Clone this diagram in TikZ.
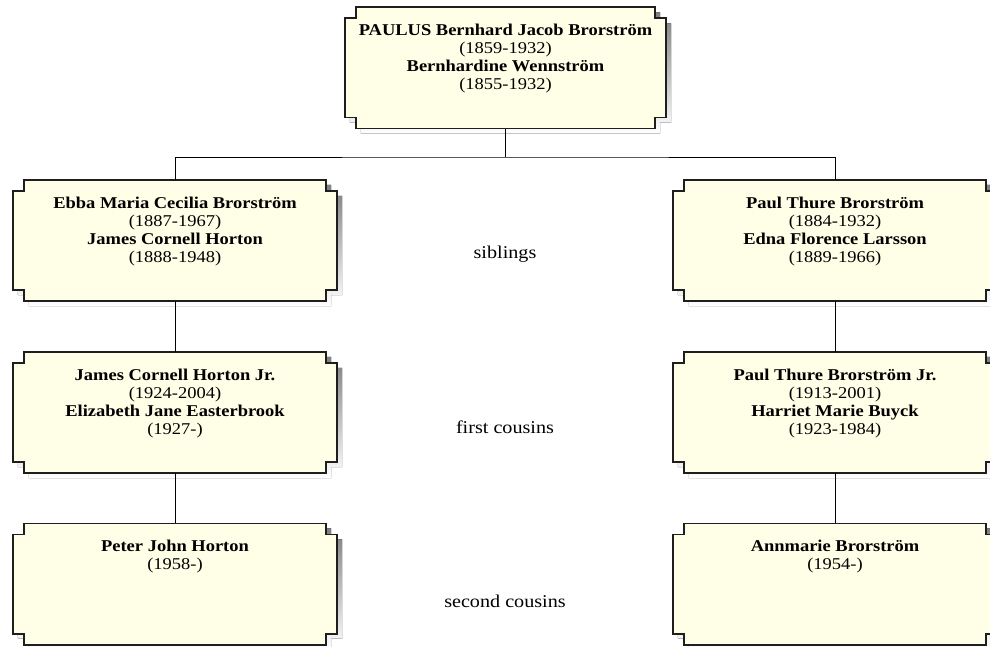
\documentclass[tikz,border=0pt]{standalone}
\usepackage{fontspec}
\setmainfont{Liberation Serif}[FakeStretch=1.12]
\usetikzlibrary{backgrounds}

\definecolor{cream}{RGB}{255,254,230}
\definecolor{shade}{RGB}{125,125,125}
\definecolor{rim}{RGB}{30,30,30}

\def\nd{11pt}
% outline with square notches cut into the four corners
\newcommand\notched[1]{([xshift=\nd]#1.north west) -- ([xshift=-\nd]#1.north east)
  -- ([shift={(-\nd,-\nd)}]#1.north east) -- ([yshift=-\nd]#1.north east)
  -- ([yshift=\nd]#1.south east) -- ([shift={(-\nd,\nd)}]#1.south east)
  -- ([xshift=-\nd]#1.south east) -- ([xshift=\nd]#1.south west)
  -- ([shift={(\nd,\nd)}]#1.south west) -- ([yshift=\nd]#1.south west)
  -- ([yshift=-\nd]#1.north west) -- ([shift={(\nd,-\nd)}]#1.north west) -- cycle}
\newcommand\famcard[2][324pt]{\parbox[c][121pt][t]{#1}{\centering\rule{0pt}{28pt}#2}}

\begin{document}
\begin{tikzpicture}[x=1pt, y=-1pt,
  person/.style={inner sep=0pt, font=\fontsize{16.5}{18}\selectfont},
  rel/.style={font=\fontsize{18}{20}\selectfont}]

\useasboundingbox (0,0) rectangle (990,647);

\node[person] (paulus) at (505.5,68) {\famcard[321pt]{\textbf{PAULUS Bernhard Jacob Brorström}\\(1859-1932)\\\textbf{Bernhardine Wennström}\\(1855-1932)}};

\node[person] (ebba) at (175,240.5) {\famcard{\textbf{Ebba Maria Cecilia Brorström}\\(1887-1967)\\\textbf{James Cornell Horton}\\(1888-1948)}};
\node[person] (paul) at (835,240.5) {\famcard{\textbf{Paul Thure Brorström}\\(1884-1932)\\\textbf{Edna Florence Larsson}\\(1889-1966)}};

\node[person] (james) at (175,412.5) {\famcard{\textbf{James Cornell Horton Jr.}\\(1924-2004)\\\textbf{Elizabeth Jane Easterbrook}\\(1927-)}};
\node[person] (pauljr) at (835,412.5) {\famcard{\textbf{Paul Thure Brorström Jr.}\\(1913-2001)\\\textbf{Harriet Marie Buyck}\\(1923-1984)}};

\node[person] (peter) at (175,584) {\famcard{\textbf{Peter John Horton}\\(1958-)}};
\node[person] (annmarie) at (835,584) {\famcard{\textbf{Annmarie Brorström}\\(1954-)}};

\node[rel] (siblings) at (505,254) {siblings};
\node[rel] (cousinsA) at (505,427) {first cousins};
\node[rel] (cousinsB) at (505,601) {second cousins};

\coordinate (bus) at (505.5,157);
\draw (paulus) -- (bus);
\draw (ebba.north) |- (bus) -| (paul.north);
\draw (ebba) -- (james);
\draw (james) -- (peter);
\draw (paul) -- (pauljr);
\draw (pauljr) -- (annmarie);

\begin{scope}[on background layer]
\foreach \n in {paulus,ebba,paul,james,pauljr,peter,annmarie} {
  \fill[shade, transform canvas={shift={(5pt,-5pt)}}] \notched{\n};
  \filldraw[fill=cream, draw=rim, line width=1.6pt] \notched{\n};
}
\end{scope}
\end{tikzpicture}
\end{document}
